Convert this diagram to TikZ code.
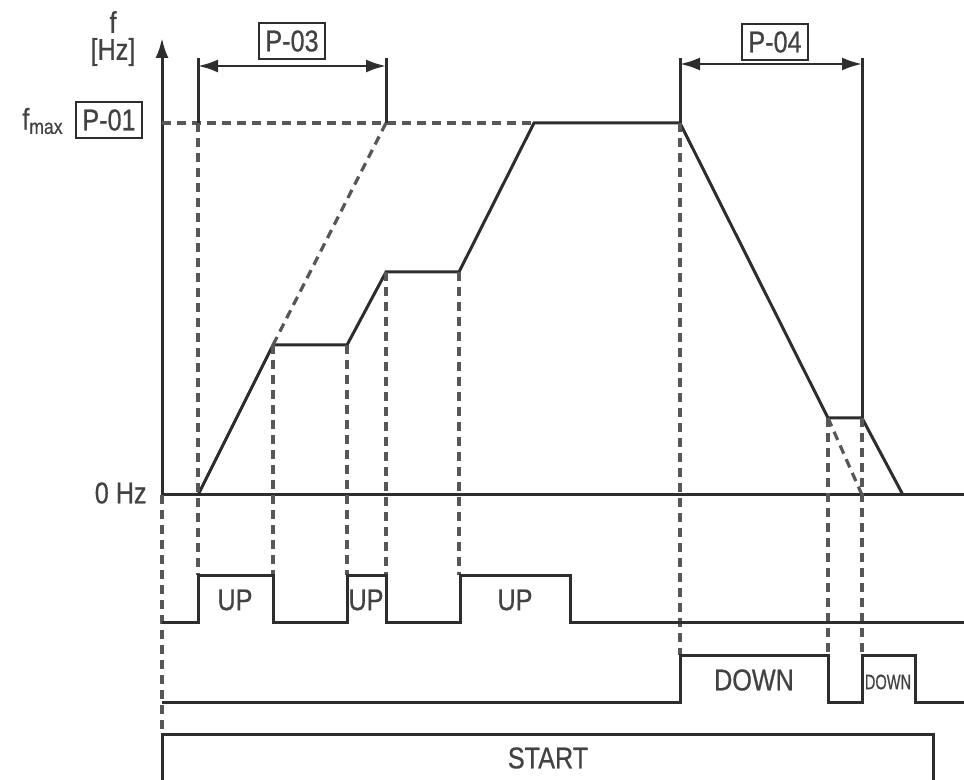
\documentclass[tikz,border=0pt]{standalone}
\usepackage{fontspec}
\setmainfont{Liberation Sans}[FakeStretch=0.84,FakeBold=0.6]
\usepackage{graphicx}
\usetikzlibrary{arrows.meta}
\definecolor{ink}{RGB}{45,45,45}
\tikzset{
  sig/.style={draw=ink,line width=1.5pt},
  guide/.style={draw=ink!80,line width=1.6pt,dash pattern=on 4.5pt off 3pt},
  dimline/.style={draw=ink,line width=1.2pt,{Latex[length=10pt,width=6.5pt]}-{Latex[length=10pt,width=6.5pt]}},
  txt/.style={font=\fontsize{15}{17}\selectfont,text=ink!90,inner sep=0pt},
  pbox/.style={txt,draw=ink,line width=1.1pt,minimum width=33pt,minimum height=18pt},
}

\begin{document}
\begin{tikzpicture}[x=0.5pt,y=-0.5pt]
\useasboundingbox (0,0) rectangle (964,780);
% key points of the frequency curve
\coordinate (o) at (162,495);
\coordinate (r0) at (198,495);
\coordinate (k1) at (273,345);
\coordinate (k2) at (347,345);
\coordinate (k3) at (386,272);
\coordinate (k4) at (459,272);
\coordinate (k5) at (534,123);
\coordinate (k6) at (680,123);
\coordinate (k7) at (828,418);
\coordinate (k8) at (862,418);
\coordinate (k9) at (903,495);
% axes
\draw[sig,-{Latex[length=10pt,width=6.5pt]}] (o) -- (162,38);
\draw[sig] (o) -- (964,495);
\node[txt] (funit) at (113,22) {f};
\node[txt] (hz) at (113,52) {[Hz]};
\node[txt,anchor=east] (fmax) at (64,121) {f\textsubscript{max}};
\node[pbox] (p01) at (109,120) {P-01};
\node[txt,anchor=east] (zero) at (147,493) {0 Hz};
% frequency curve
\draw[sig] (r0) -- (k1) -- (k2) -- (k3) -- (k4) -- (k5) -- (k6) -- (k7) -- (k8) -- (k9);
\draw[guide] (162,123) -- (k5);
\draw[guide] (k1) -- (386,123);
\draw[guide] (k7) -- (862,495);
% ramp times
\draw[sig] (198,58) -- (198,123);
\draw[sig] (386,58) -- (386,123);
\draw[dimline] (198,66) -- (386,66);
\node[pbox] (p03) at (292,41) {P-03};
\draw[sig] (680,58) -- (680,123);
\draw[sig] (862,58) -- (862,418);
\draw[dimline] (680,64) -- (862,64);
\node[pbox] (p04) at (775,42) {P-04};
% guide lines down to the signals
\foreach \x/\a/\b in {198/123/575, 273/345/575, 347/345/575, 386/272/575,
  459/272/575, 680/123/655, 828/418/655, 862/418/655, 162/495/734}
  \draw[guide] (\x,\a) -- (\x,\b);
% UP
\draw[sig] (162,622) -- (198,622) |- (273,575) -- (273,622) -- (347,622) |- (386,575)
  -- (386,622) -- (460,622) |- (570,575) -- (570,622) -- (964,622);
\node[txt] (up1) at (235,600) {UP};
\node[txt] (up2) at (366,600) {UP};
\node[txt] (up3) at (515,600) {UP};
% DOWN
\draw[sig] (162,702) -- (680,702) |- (828,655) -- (828,702) -- (862,702) |- (915,655)
  -- (915,702) -- (964,702);
\node[txt] (dn1) at (754,680) {DOWN};
\node[txt] (dn2) at (888,682) {\scalebox{0.58}[0.7]{DOWN}};
% START
\draw[sig] (162,780) -- (162,734) -- (933,734) -- (933,780);
\node[txt] (start) at (548,758) {START};
\end{tikzpicture}
\end{document}
